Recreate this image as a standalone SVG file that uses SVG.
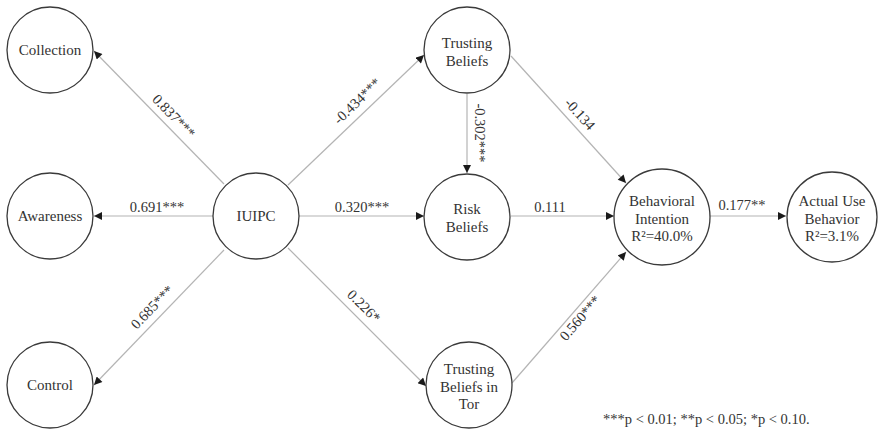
<svg xmlns="http://www.w3.org/2000/svg" width="879" height="433" viewBox="0 0 879 433">
  <style>
    .node circle { fill: #ffffff; stroke: #3a3a3a; stroke-width: 1.3; }
    .node text { font-family: "Liberation Serif", "DejaVu Serif", serif; font-size: 15px; fill: #333333; text-anchor: middle; }
    .edge { stroke: #b4b4b4; stroke-width: 1.2; fill: none; marker-end: url(#arrow); }
    .lbl { font-family: "Liberation Serif", "DejaVu Serif", serif; font-size: 14.5px; fill: #333333; text-anchor: middle; }
    .note { font-family: "Liberation Serif", "DejaVu Serif", serif; font-size: 14.5px; fill: #333333; }
  </style>
  <defs>
    <marker id="arrow" viewBox="0 0 10 10" refX="10" refY="5" markerWidth="9" markerHeight="8" markerUnits="userSpaceOnUse" orient="auto">
      <path d="M0,0 L10,5 L0,10 z" fill="#1a1a1a"/>
    </marker>
  </defs>
  <rect width="879" height="433" fill="#ffffff"/>

  <!-- connectors -->
  <g id="connectors">
    <line class="edge" x1="224" y1="184" x2="94" y2="51"/>
    <line class="edge" x1="213" y1="216" x2="94" y2="216"/>
    <line class="edge" x1="224" y1="250" x2="94" y2="385"/>
    <line class="edge" x1="288" y1="185" x2="424" y2="55"/>
    <line class="edge" x1="299" y1="216" x2="424" y2="216"/>
    <line class="edge" x1="288" y1="248" x2="426" y2="386"/>
    <line class="edge" x1="467" y1="94" x2="467" y2="173"/>
    <line class="edge" x1="511" y1="56" x2="626" y2="183"/>
    <line class="edge" x1="511" y1="216" x2="614" y2="216"/>
    <line class="edge" x1="512" y1="383" x2="626" y2="252"/>
    <line class="edge" x1="710" y1="216" x2="786" y2="216"/>
  </g>

  <!-- path coefficients -->
  <g id="labels">
    <text class="lbl" transform="translate(174,116) rotate(46)" y="5">0.837***</text>
    <text class="lbl" x="157" y="212">0.691***</text>
    <text class="lbl" transform="translate(152,307) rotate(-46)" y="5">0.685***</text>
    <text class="lbl" transform="translate(357,101) rotate(-44)" y="5">-0.434***</text>
    <text class="lbl" transform="translate(480,133) rotate(90)" y="5">-0.302***</text>
    <text class="lbl" transform="translate(580,114) rotate(48)" y="5">-0.134</text>
    <text class="lbl" x="362" y="212">0.320***</text>
    <text class="lbl" x="550" y="212">0.111</text>
    <text class="lbl" transform="translate(364,306) rotate(45)" y="5">0.226*</text>
    <text class="lbl" transform="translate(580,318) rotate(-49)" y="5">0.560***</text>
    <text class="lbl" x="742" y="210">0.177**</text>
  </g>

  <!-- constructs -->
  <g id="collection" class="node">
    <circle cx="50" cy="50" r="43"/>
    <text x="50" y="55">Collection</text>
  </g>
  <g id="awareness" class="node">
    <circle cx="50" cy="216" r="43"/>
    <text x="50" y="221">Awareness</text>
  </g>
  <g id="control" class="node">
    <circle cx="50" cy="385" r="43"/>
    <text x="50" y="390">Control</text>
  </g>
  <g id="iuipc" class="node">
    <circle cx="256" cy="216" r="43"/>
    <text x="256" y="221">IUIPC</text>
  </g>
  <g id="trusting-beliefs" class="node">
    <circle cx="467" cy="50" r="43"/>
    <text x="467" y="48">Trusting</text>
    <text x="467" y="66">Beliefs</text>
  </g>
  <g id="risk-beliefs" class="node">
    <circle cx="467" cy="217" r="43"/>
    <text x="467" y="214">Risk</text>
    <text x="467" y="232">Beliefs</text>
  </g>
  <g id="trusting-beliefs-tor" class="node">
    <circle cx="469" cy="385" r="43"/>
    <text x="469" y="374">Trusting</text>
    <text x="469" y="392">Beliefs in</text>
    <text x="469" y="409">Tor</text>
  </g>
  <g id="behavioral-intention" class="node">
    <circle cx="662" cy="217" r="48"/>
    <text x="662" y="206">Behavioral</text>
    <text x="662" y="224">Intention</text>
    <text x="662" y="241">R²=40.0%</text>
  </g>
  <g id="actual-use" class="node">
    <circle cx="832" cy="217" r="45"/>
    <text x="832" y="206">Actual Use</text>
    <text x="832" y="224">Behavior</text>
    <text x="832" y="241">R²=3.1%</text>
  </g>

  <text class="note" x="603" y="424">***p &lt; 0.01; **p &lt; 0.05; *p &lt; 0.10.</text>
</svg>
